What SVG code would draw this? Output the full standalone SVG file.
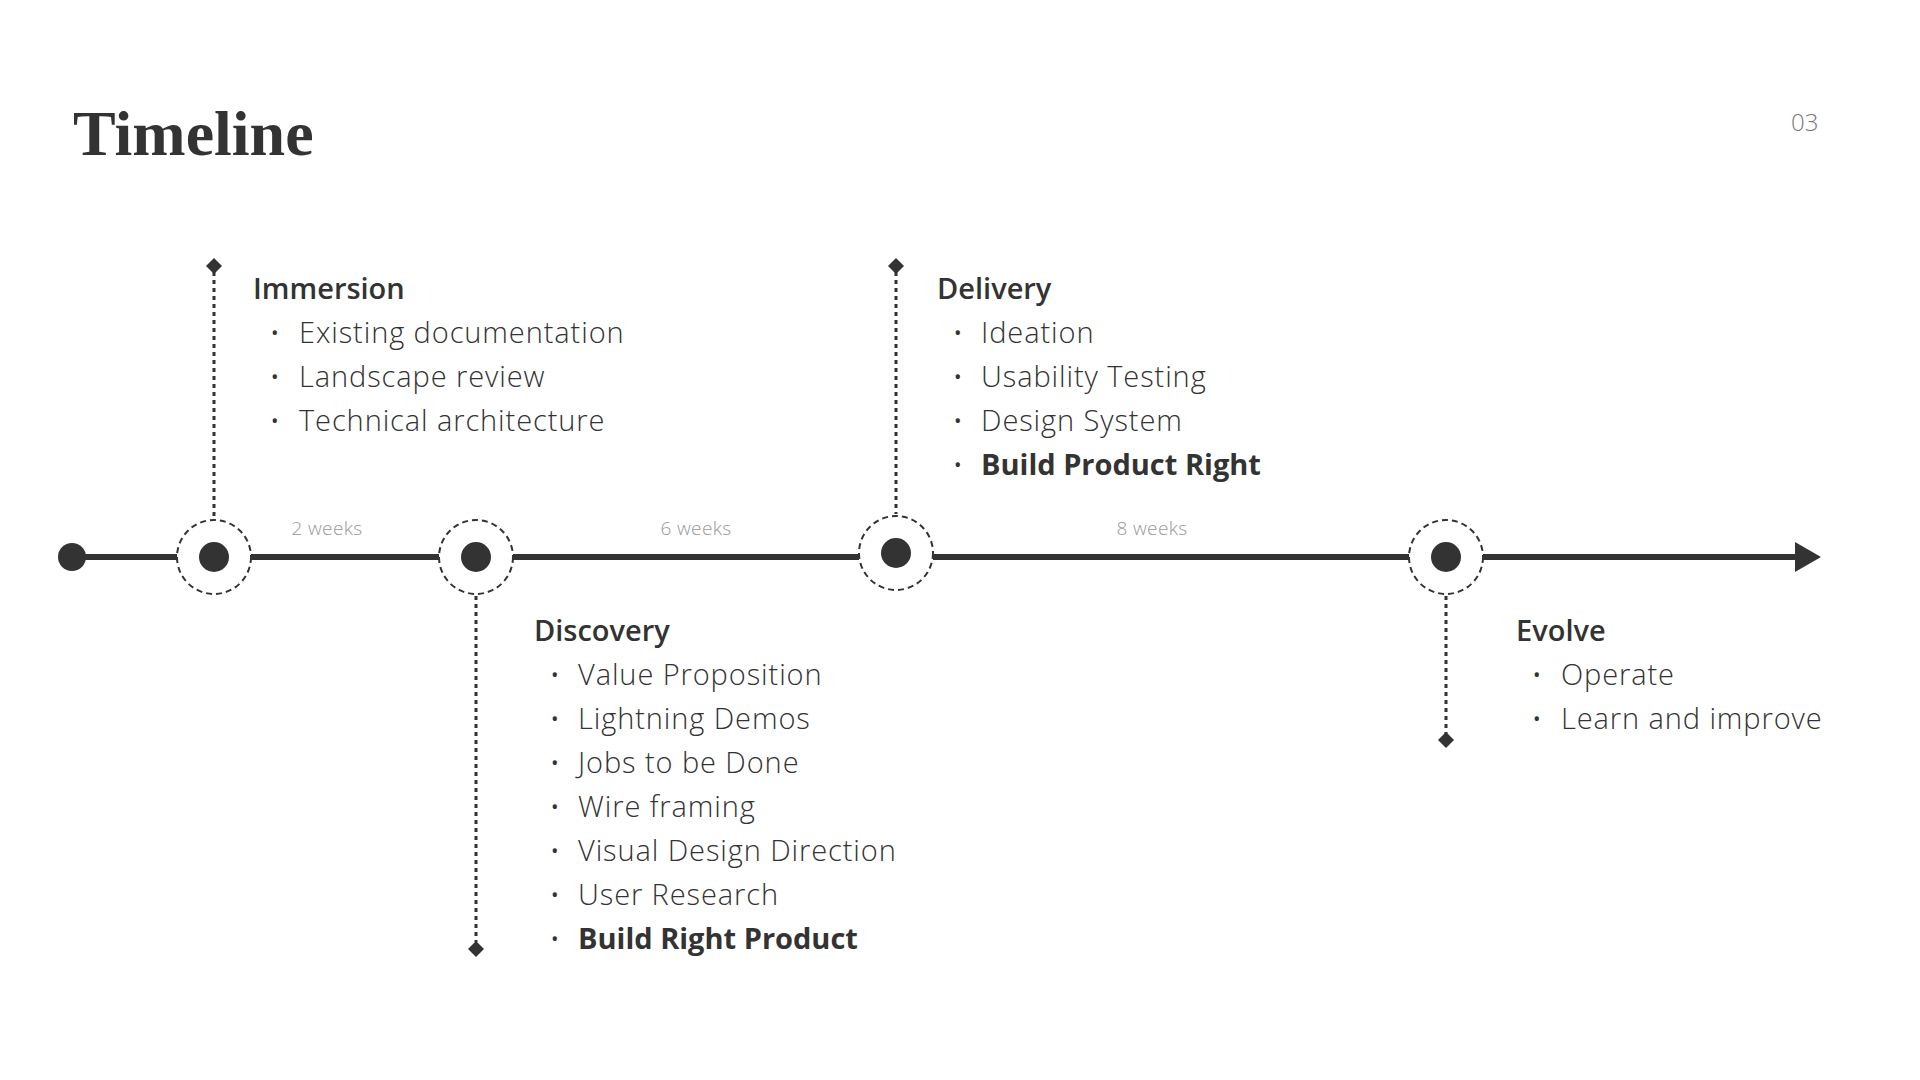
<svg xmlns="http://www.w3.org/2000/svg" width="1920" height="1080" viewBox="0 0 1920 1080">
<style>
.title{font-family:"Liberation Serif","DejaVu Serif",serif;font-weight:700;font-size:64px;fill:#333}
.page{font-family:"Open Sans",Lato,sans-serif;font-weight:300;font-size:24px;fill:#777}
.dur{font-family:"Open Sans",Lato,sans-serif;font-weight:300;font-size:19px;fill:#999;text-anchor:middle;letter-spacing:0.4px}
.head{font-family:"Open Sans",Lato,sans-serif;font-weight:600;font-size:29px;fill:#333}
.item{font-family:"Open Sans",Lato,sans-serif;font-weight:300;font-size:29px;fill:#333;letter-spacing:0.9px}
.bul{font-family:"Open Sans",Lato,sans-serif;font-size:20px;fill:#333}
.strong{font-weight:700;letter-spacing:0}
.axis{stroke:#333;stroke-width:6;fill:none}
.ring{fill:#fff;stroke:#333;stroke-width:2;stroke-dasharray:6 4}
.dot{fill:#333}
.stem{stroke:#333;stroke-width:3;stroke-dasharray:4 4;fill:none}
.dia{fill:#333}
</style>
<rect width="1920" height="1080" fill="#fff"/>
<text class="title" x="73" y="155">Timeline</text>
<text class="page" x="1791" y="131">03</text>

<g id="connectors">
  <line class="axis" x1="72" y1="557" x2="177" y2="557"/>
  <line class="axis" x1="251" y1="557" x2="439" y2="557"/>
  <line class="axis" x1="513" y1="557" x2="859" y2="557"/>
  <line class="axis" x1="933" y1="557" x2="1409" y2="557"/>
  <line class="axis" x1="1483" y1="557" x2="1797" y2="557"/>
  <polygon class="dot" points="1795,542 1821,557 1795,572"/>
  <line class="stem" x1="214" y1="272" x2="214" y2="518"/>
  <line class="stem" x1="476" y1="596" x2="476" y2="942"/>
  <line class="stem" x1="896" y1="272" x2="896" y2="514"/>
  <line class="stem" x1="1446" y1="596" x2="1446" y2="734"/>
  <polygon class="dia" points="214,258 222,266 214,274 206,266"/>
  <polygon class="dia" points="476,941 484,949 476,957 468,949"/>
  <polygon class="dia" points="896,258 904,266 896,274 888,266"/>
  <polygon class="dia" points="1446,732 1454,740 1446,748 1438,740"/>
  <text class="dur" x="327" y="535">2 weeks</text>
  <text class="dur" x="696" y="535">6 weeks</text>
  <text class="dur" x="1152" y="535">8 weeks</text>
</g>

<g id="start">
  <circle class="dot" cx="72" cy="557" r="14"/>
</g>

<g id="immersion">
  <circle class="ring" cx="214" cy="557" r="37"/>
  <circle class="dot" cx="214" cy="557" r="15"/>
  <text class="head" x="253" y="299">Immersion</text>
  <text class="bul" x="271" y="340">•</text><text class="item" x="299" y="343">Existing documentation</text>
  <text class="bul" x="271" y="384">•</text><text class="item" x="299" y="387">Landscape review</text>
  <text class="bul" x="271" y="428">•</text><text class="item" x="299" y="431">Technical architecture</text>
</g>

<g id="discovery">
  <circle class="ring" cx="476" cy="557" r="37"/>
  <circle class="dot" cx="476" cy="557" r="15"/>
  <text class="head" x="534" y="641">Discovery</text>
  <text class="bul" x="551" y="682">•</text><text class="item" x="578" y="685">Value Proposition</text>
  <text class="bul" x="551" y="726">•</text><text class="item" x="578" y="729">Lightning Demos</text>
  <text class="bul" x="551" y="770">•</text><text class="item" x="578" y="773">Jobs to be Done</text>
  <text class="bul" x="551" y="814">•</text><text class="item" x="578" y="817">Wire framing</text>
  <text class="bul" x="551" y="858">•</text><text class="item" x="578" y="861">Visual Design Direction</text>
  <text class="bul" x="551" y="902">•</text><text class="item" x="578" y="905">User Research</text>
  <text class="bul" x="551" y="946">•</text><text class="item strong" x="578" y="949">Build Right Product</text>
</g>

<g id="delivery">
  <circle class="ring" cx="896" cy="553" r="37"/>
  <circle class="dot" cx="896" cy="553" r="15"/>
  <text class="head" x="937" y="299">Delivery</text>
  <text class="bul" x="954" y="340">•</text><text class="item" x="981" y="343">Ideation</text>
  <text class="bul" x="954" y="384">•</text><text class="item" x="981" y="387">Usability Testing</text>
  <text class="bul" x="954" y="428">•</text><text class="item" x="981" y="431">Design System</text>
  <text class="bul" x="954" y="472">•</text><text class="item strong" x="981" y="475">Build Product Right</text>
</g>

<g id="evolve">
  <circle class="ring" cx="1446" cy="557" r="37"/>
  <circle class="dot" cx="1446" cy="557" r="15"/>
  <text class="head" x="1516" y="641">Evolve</text>
  <text class="bul" x="1533" y="682">•</text><text class="item" x="1561" y="685">Operate</text>
  <text class="bul" x="1533" y="726">•</text><text class="item" x="1561" y="729">Learn and improve</text>
</g>
</svg>
